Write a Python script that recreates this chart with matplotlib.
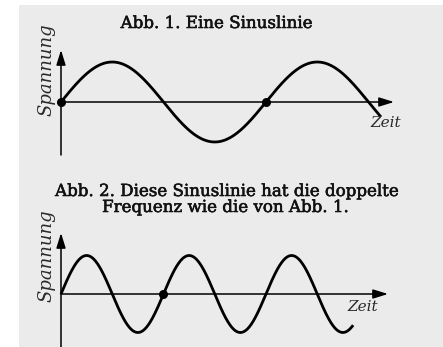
import numpy as np
import matplotlib
matplotlib.use("Agg")
import matplotlib.pyplot as plt
import matplotlib.patheffects as pe
from matplotlib.patches import Rectangle

# chart data
titles = ["Abb. 1. Eine Sinuslinie",
          "Abb. 2. Diese Sinuslinie hat die doppelte\nFrequenz wie die von Abb. 1."]
frequencies = [1, 2]          # periods per time unit
amplitudes = [1.0, 1.0]
t_end = [1.56, 1.425]         # where each curve stops
dot_times = [[0.0, 1.0], [0.5]]
y_label = "Spannung"
x_label = "Zeit"

W, H = 443, 347
fig = plt.figure(figsize=(W / 100, H / 100), dpi=100)
fig.patch.set_facecolor("white")
fig.patches.append(Rectangle((19 / W, 0), 1 - 19 / W, 342 / H, transform=fig.transFigure,
                             facecolor="#ebebeb", edgecolor="none", zorder=-5))

# layout in pixels: axes top/bottom, x-axis row, px per amplitude, arrow ends
px_per_t = 205
x0_px = 61
panels = [dict(top=35, bottom=170, zero=102, amp=40, ytip=50, ybot=155, xtip=394,
               ylab=(46, 70), xlab=(386, 123)),
          dict(top=215, bottom=347, zero=294, amp=38.5, ytip=233, ybot=360, xtip=388,
               ylab=(46, 256), xlab=(363, 307))]

title_kw = dict(ha="center", va="baseline", family="DejaVu Serif", fontsize=12,
                color="#111111", path_effects=[pe.withStroke(linewidth=0.4, foreground="#111111")])
hand_kw = dict(ha="center", va="center", family="DejaVu Serif", style="italic",
               color="#2a2a2a")

for i, p in enumerate(panels):
    ax = fig.add_axes([0, 1 - p["bottom"] / H, 1, (p["bottom"] - p["top"]) / H])
    ax.set_xlim(-x0_px / px_per_t, (W - x0_px) / px_per_t)
    ax.set_ylim((p["zero"] - p["bottom"]) / p["amp"], (p["zero"] - p["top"]) / p["amp"])
    ax.axis("off")
    ax.patch.set_alpha(0)

    to_t = lambda px: (px - x0_px) / px_per_t
    to_y = lambda py: (p["zero"] - py) / p["amp"]

    arrow = dict(arrowstyle="-|>,head_length=0.9,head_width=0.28", mutation_scale=10,
                 lw=1.1, color="black", shrinkA=0, shrinkB=0)
    ax.annotate("", xy=(0, to_y(p["ytip"])), xytext=(0, to_y(p["ybot"])), arrowprops=arrow)
    ax.annotate("", xy=(to_t(p["xtip"]), 0), xytext=(0, 0), arrowprops=arrow)

    t = np.linspace(0, t_end[i], 600)
    ax.plot(t, amplitudes[i] * np.sin(2 * np.pi * frequencies[i] * t), color="black",
            lw=2.0, solid_capstyle="butt", zorder=3)
    dt = np.array(dot_times[i])
    ax.plot(dt, amplitudes[i] * np.sin(2 * np.pi * frequencies[i] * dt), "o", color="black",
            ms=5.5, zorder=4)

    ax.text(to_t(p["ylab"][0]), to_y(p["ylab"][1]), y_label, rotation=90, fontsize=13, **hand_kw)
    ax.text(to_t(p["xlab"][0]), to_y(p["xlab"][1]), x_label, fontsize=11, **hand_kw)

fig.text(216 / W, 1 - 28 / H, titles[0], **title_kw)
line1, line2 = titles[1].split("\n")
fig.text(226 / W, 1 - 196 / H, line1, **title_kw)
fig.text(225 / W, 1 - 212 / H, line2, **title_kw)

fig.savefig("out.png", dpi=100)
